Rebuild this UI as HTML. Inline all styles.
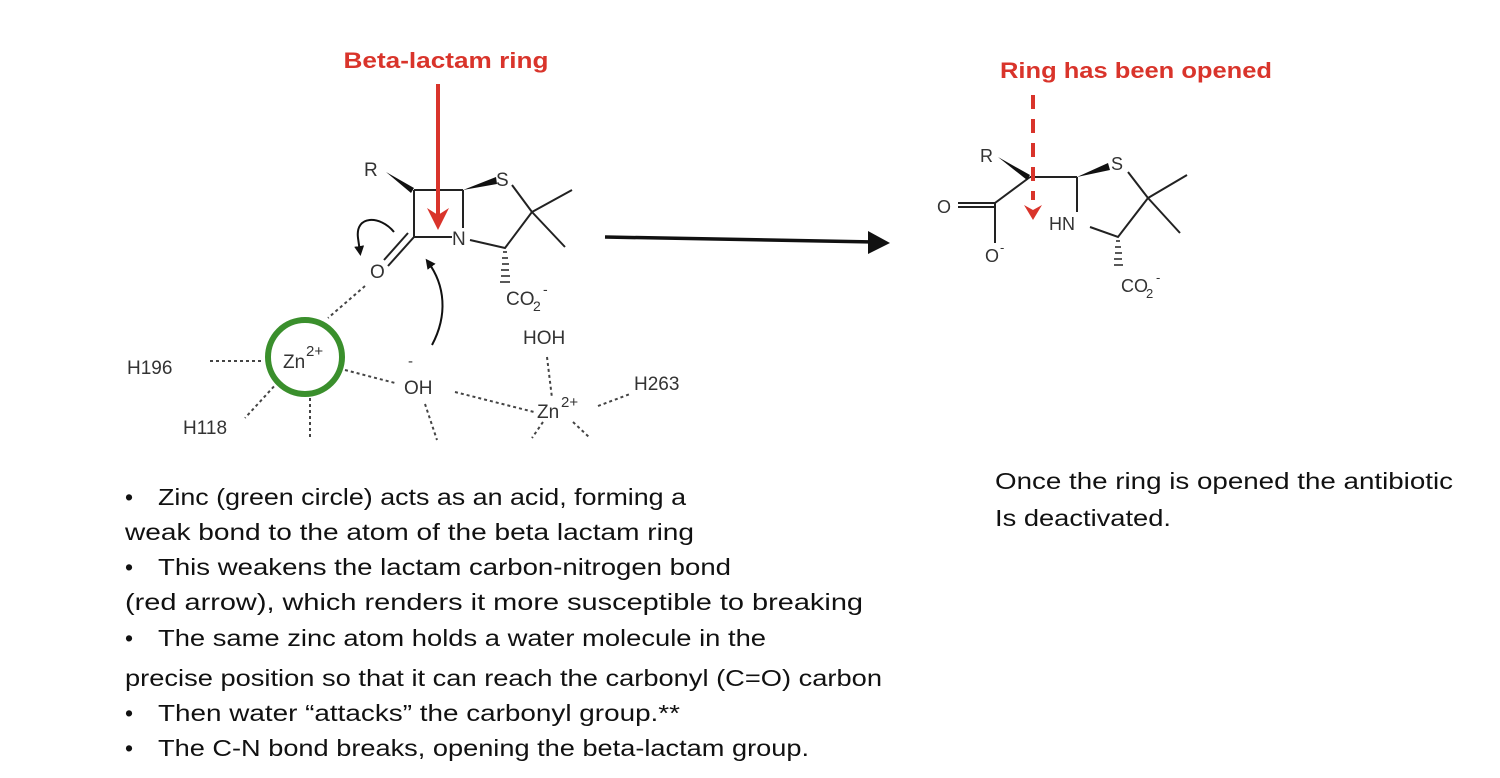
<!DOCTYPE html>
<html><head><meta charset="utf-8"><style>
html,body{margin:0;padding:0;background:#fff;}
svg{display:block;}
text{font-family:"Liberation Sans",sans-serif;}
</style></head><body>
<svg width="1500" height="778" viewBox="0 0 1500 778" xmlns="http://www.w3.org/2000/svg">
<defs>
<marker id="ah" markerWidth="10" markerHeight="10" refX="6" refY="5" orient="auto" markerUnits="userSpaceOnUse"><path d="M0,0 L10,5 L0,10 Z" fill="#111"/></marker>
</defs>
<text x="446" y="68" font-size="22" font-weight="bold" fill="#d9342b" text-anchor="middle" textLength="205" lengthAdjust="spacingAndGlyphs">Beta-lactam ring</text>
<text x="1136" y="78" font-size="22" font-weight="bold" fill="#d9342b" text-anchor="middle" textLength="272" lengthAdjust="spacingAndGlyphs">Ring has been opened</text>

<g stroke="#222" stroke-width="2" fill="none">
<path d="M414,190 L463,190 M414,190 L414,237 L452,237 M463,190 L463,228"/>
<path d="M470,240 L505,248 L532,212 L512,185 M532,212 L572,190 M532,212 L565,247"/>
<path d="M414,237 L388,266 M408,233 L384,260"/>
</g>
<path d="M386,172 L414,188 L411,193 Z" fill="#111"/>
<path d="M463,190 L496,177 L497,184 Z" fill="#111"/>
<g stroke="#222" stroke-width="1.5">
<path d="M503,252 L507,252 M502,258 L508,258 M502,264 L509,264 M501,270 L509,270 M501,276 L510,276 M500,282 L510,282"/>
</g>
<g font-size="19" fill="#333">
<text x="364" y="176">R</text>
<text x="496" y="186">S</text>
<text x="452" y="245">N</text>
<text x="370" y="278">O</text>
<text x="506" y="305">CO</text><text x="533" y="311" font-size="14">2</text><text x="543" y="294" font-size="14">-</text>
<text x="127" y="374">H196</text>
<text x="183" y="434">H118</text>
<text x="283" y="368">Zn</text><text x="306" y="356" font-size="15">2+</text>
<text x="404" y="394">OH</text><text x="408" y="366" font-size="15">-</text>
<text x="523" y="344">HOH</text>
<text x="537" y="418">Zn</text><text x="561" y="407" font-size="15">2+</text>
<text x="634" y="390">H263</text>
</g>
<path d="M394,232 C380,215 355,215 358,238 L360,252" stroke="#111" stroke-width="2" fill="none" marker-end="url(#ah)"/>
<path d="M432,345 C448,315 445,285 428,262" stroke="#111" stroke-width="2" fill="none" marker-end="url(#ah)"/>
<g stroke="#444" stroke-width="2" stroke-dasharray="3,3" fill="none">
<path d="M210,361 L262,361"/>
<path d="M365,286 L328,318"/>
<path d="M278,382 L245,418"/>
<path d="M310,398 L310,440"/>
<path d="M345,370 L395,383"/>
<path d="M425,404 L437,440"/>
<path d="M455,392 L534,412"/>
<path d="M547,357 L552,398"/>
<path d="M598,406 L630,394"/>
<path d="M543,422 L532,438 M573,422 L590,438"/>
</g>
<circle cx="305" cy="357" r="37" stroke="#3a8f2c" stroke-width="6" fill="none"/>
<path d="M438,84 L438,215" stroke="#d9342b" stroke-width="4"/>
<path d="M427,208 L438,230 L449,208 L438,215 Z" fill="#d9342b"/>
<path d="M605,237 L875,242" stroke="#111" stroke-width="3.5"/>
<path d="M868,231 L890,243 L868,254 Z" fill="#111"/>

<g stroke="#222" stroke-width="2" fill="none">
<path d="M1030,177 L1077,177 M1077,177 L1077,212 M1090,227 L1118,237 L1148,198 L1128,172 M1148,198 L1187,175 M1148,198 L1180,233"/>
<path d="M1030,177 L995,203 L995,243 M995,203 L958,203 M995,207 L958,207"/>
</g>
<path d="M998,157 L1030,175 L1027,180 Z" fill="#111"/>
<path d="M1077,177 L1108,163 L1110,170 Z" fill="#111"/>
<g stroke="#222" stroke-width="1.5">
<path d="M1116,241 L1120,241 M1115,247 L1121,247 M1115,253 L1122,253 M1114,259 L1122,259 M1114,265 L1123,265"/>
</g>
<g font-size="18" fill="#333">
<text x="980" y="162">R</text>
<text x="1111" y="170">S</text>
<text x="1049" y="230">HN</text>
<text x="937" y="213">O</text>
<text x="985" y="262">O</text><text x="1000" y="252" font-size="13">-</text>
<text x="1121" y="292">CO</text><text x="1146" y="298" font-size="13">2</text><text x="1156" y="282" font-size="13">-</text>
</g>
<path d="M1033,95 L1033,200" stroke="#d9342b" stroke-width="4" stroke-dasharray="14,10"/>
<path d="M1024,205 L1033,220 L1042,205 L1033,210 Z" fill="#d9342b"/>

<g font-size="23" fill="#111">
<text x="125" y="505">•</text><text x="158" y="505" textLength="528" lengthAdjust="spacingAndGlyphs">Zinc (green circle) acts as an acid, forming a</text>
<text x="125" y="540" textLength="569" lengthAdjust="spacingAndGlyphs">weak bond to the atom of the beta lactam ring</text>
<text x="125" y="575">•</text><text x="158" y="575" textLength="573" lengthAdjust="spacingAndGlyphs">This weakens the lactam carbon-nitrogen bond</text>
<text x="125" y="610" textLength="738" lengthAdjust="spacingAndGlyphs">(red arrow), which renders it more susceptible to breaking</text>
<text x="125" y="646">•</text><text x="158" y="646" textLength="608" lengthAdjust="spacingAndGlyphs">The same zinc atom holds a water molecule in the</text>
<text x="125" y="686" textLength="757" lengthAdjust="spacingAndGlyphs">precise position so that it can reach the carbonyl (C=O) carbon</text>
<text x="125" y="721">•</text><text x="158" y="721" textLength="522" lengthAdjust="spacingAndGlyphs">Then water “attacks” the carbonyl group.**</text>
<text x="125" y="756">•</text><text x="158" y="756" textLength="651" lengthAdjust="spacingAndGlyphs">The C-N bond breaks, opening the beta-lactam group.</text>
<text x="995" y="489" textLength="458" lengthAdjust="spacingAndGlyphs">Once the ring is opened the antibiotic</text>
<text x="995" y="526" textLength="176" lengthAdjust="spacingAndGlyphs">Is deactivated.</text>
</g>
</svg>
</body></html>
